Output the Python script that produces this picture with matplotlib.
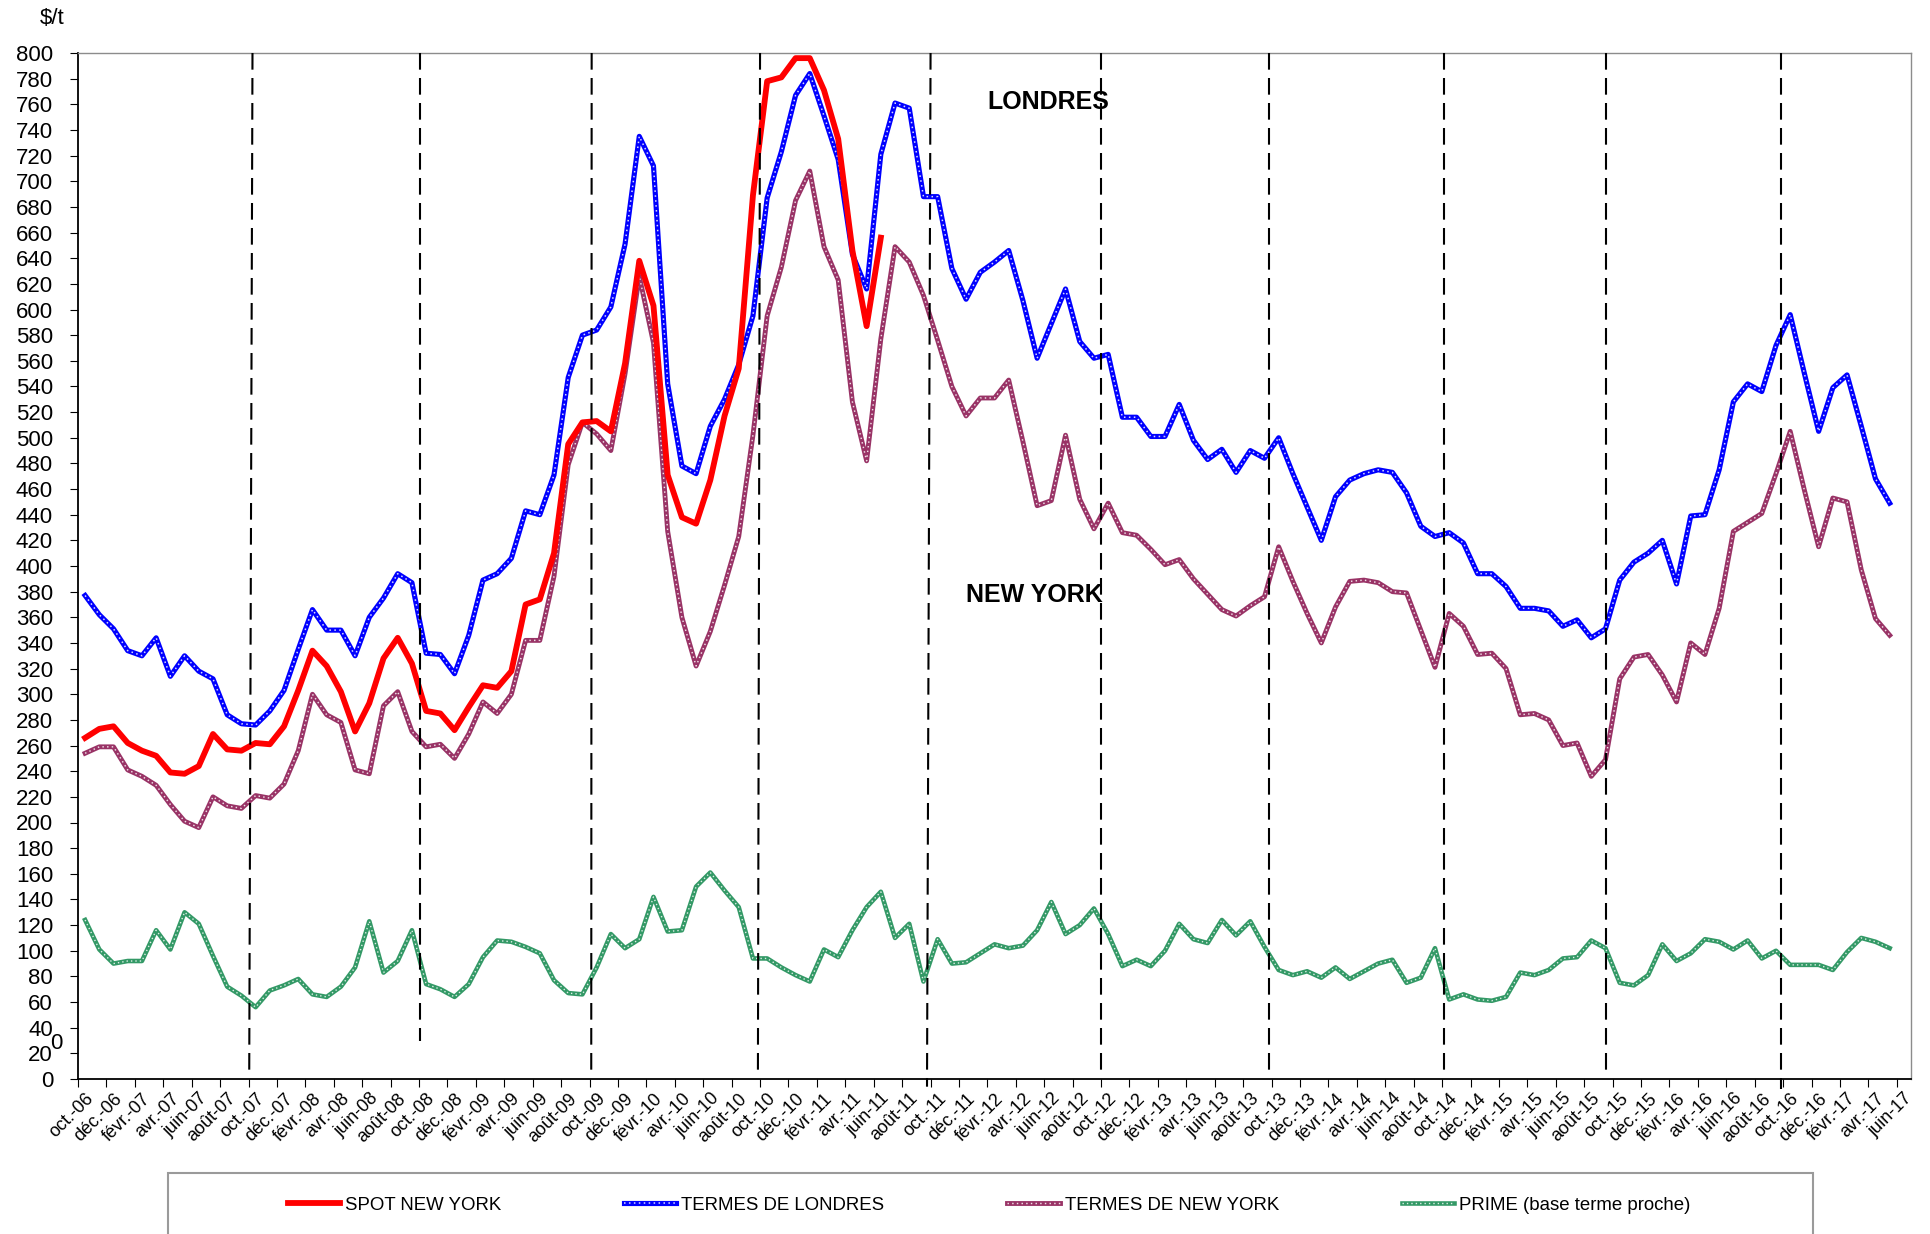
import matplotlib
matplotlib.use('Agg')
import matplotlib.pyplot as plt
from matplotlib.patches import Rectangle
import numpy as np

plt.rcParams['font.family'] = ['Liberation Sans', 'DejaVu Sans']

# categories: monthly, oct-06 .. juin-17
mois = ['janv.', 'févr.', 'mars', 'avr.', 'mai', 'juin',
        'juil.', 'août', 'sept.', 'oct.', 'nov.', 'déc.']
n_cat = 129
labels = [f"{mois[(9 + i) % 12]}-{6 + (9 + i) // 12:02d}" for i in range(n_cat)]

# $/t
spot_ny = [266, 273, 275, 262, 256, 252, 239, 238, 244, 269, 257, 256, 262, 261, 275, 303,
           334, 322, 302, 271, 293, 328, 344, 324, 287, 285, 272, 290, 307, 305, 318, 370,
           374, 410, 495, 512, 513, 505, 558, 638, 603, 471, 438, 433, 467, 517, 554, 689,
           778, 781, 796, 796, 771, 733, 646, 587, 656]

londres = [377, 362, 351, 334, 330, 344, 314, 330, 318, 312, 284, 277, 276, 287, 303, 335,
           366, 350, 350, 330, 360, 375, 394, 387, 332, 331, 316, 346, 389, 394, 406, 443,
           440, 471, 547, 580, 584, 602, 651, 735, 712, 542, 478, 472, 509, 530, 557, 595,
           687, 723, 767, 784, 751, 717, 643, 616, 721, 761, 757, 688, 688, 632, 608, 629,
           637, 646, 607, 562, 589, 616, 575, 562, 565, 516, 516, 501, 501, 526, 498, 483,
           491, 473, 490, 484, 500, 472, 446, 420, 454, 467, 472, 475, 473, 457, 431, 423,
           426, 418, 394, 394, 384, 367, 367, 365, 353, 358, 344, 351, 389, 403, 410, 420,
           386, 439, 440, 475, 528, 542, 536, 572, 596, 550, 505, 539, 549, 509, 468, 449]

termes_ny = [254, 259, 259, 241, 236, 229, 214, 201, 196, 220, 213, 211, 221, 219, 230, 256,
             300, 284, 278, 241, 238, 291, 302, 271, 259, 261, 250, 269, 294, 285, 300, 342,
             342, 392, 479, 512, 503, 490, 550, 626, 574, 427, 360, 322, 349, 385, 423, 502,
             595, 633, 685, 708, 649, 623, 528, 482, 577, 649, 637, 611, 576, 540, 517, 531,
             531, 545, 497, 447, 451, 502, 452, 429, 449, 426, 424, 413, 401, 405, 390, 378,
             366, 361, 369, 376, 415, 388, 363, 340, 368, 388, 389, 387, 380, 379, 350, 321,
             363, 353, 331, 332, 320, 284, 285, 280, 260, 262, 236, 249, 312, 329, 331, 315,
             294, 340, 331, 367, 427, 434, 441, 472, 505, 459, 415, 453, 450, 397, 359, 346]

prime = [124, 101, 90, 92, 92, 116, 101, 130, 121, 96, 72, 65, 56, 69, 73, 78,
         66, 64, 72, 87, 123, 83, 92, 116, 74, 70, 64, 74, 95, 108, 107, 103,
         98, 77, 67, 66, 87, 113, 102, 109, 142, 115, 116, 150, 161, 147, 134, 94,
         94, 87, 81, 76, 101, 95, 116, 134, 146, 110, 121, 76, 109, 90, 91, 98,
         105, 102, 104, 116, 138, 113, 120, 133, 113, 88, 93, 88, 100, 121, 109, 106,
         124, 112, 123, 103, 85, 81, 84, 79, 87, 78, 84, 90, 93, 75, 79, 102,
         62, 66, 62, 61, 64, 83, 81, 85, 94, 95, 108, 102, 75, 73, 81, 105,
         92, 98, 109, 107, 101, 108, 94, 100, 89, 89, 89, 85, 99, 110, 107, 102]

# hand-drawn October separators (month index at top / bottom, bottom value)
sep_top = [11.78, 23.58, 35.65, 47.5, 59.5, 71.5, 83.33, 95.6, 107.03, 119.33]
sep_bottom = [11.55, 23.58, 35.62, 47.35, 59.25, 71.5, 83.33, 95.6, 107.03, 119.33]
sep_end = [4, 30, 4, 4, -6, 4, 4, 4, 4, -8]

fig = plt.figure(figsize=(19.3, 12.34), dpi=100)
ax = fig.add_axes([78 / 1930, 1 - 1079 / 1234, 1833 / 1930, 1026 / 1234])


def dotted_line(y, color, lw, z):
    x = np.arange(len(y))
    base, = ax.plot(x, y, color=color, lw=lw, zorder=z)
    dots, = ax.plot(x, y, color='white', lw=lw * 0.3, ls=(0, (1, 2.2)),
                    alpha=0.85, zorder=z + 0.1)
    return (base, dots)


h_lon = dotted_line(londres, '#0000ff', 3.7, 2)
h_ny = dotted_line(termes_ny, '#993366', 3.5, 2.2)
h_pr = dotted_line(prime, '#339966', 3.3, 2.4)
h_spot, = ax.plot(np.arange(len(spot_ny)), spot_ny, color='#ff0000', lw=4.2, zorder=3)

for xt, xb, yb in zip(sep_top, sep_bottom, sep_end):
    ax.plot([xt, xb], [800, yb], color='black', lw=1.5, ls=(0, (8, 4)),
            zorder=5, clip_on=False)

ax.set_xlim(-0.5, n_cat - 0.5)
ax.set_ylim(0, 800)
ax.set_yticks(np.arange(0, 801, 20))
ax.tick_params(axis='y', labelsize=16, length=6, pad=12, direction='out')

ax.set_xticks(np.arange(-0.5, n_cat, 2))
ax.set_xticklabels([])
ax.tick_params(axis='x', which='major', length=6, direction='out')
ax.set_xticks(np.arange(0, n_cat, 2), minor=True)
ax.set_xticklabels(labels[::2], minor=True, rotation=45, ha='right',
                   rotation_mode='anchor', fontsize=13)
ax.tick_params(axis='x', which='minor', length=0, pad=8)

for s in ['left', 'bottom']:
    ax.spines[s].set_color('black')
    ax.spines[s].set_linewidth(1.3)
for s in ['top', 'right']:
    ax.spines[s].set_color('#8c8c8c')
    ax.spines[s].set_linewidth(1.0)

ax.text(67.8, 762, 'LONDRES', fontsize=18, fontweight='bold', ha='center', va='center')
ax.text(66.8, 377, 'NEW YORK', fontsize=18, fontweight='bold', ha='center', va='center')
ax.text(-0.012, 27.7, '0', transform=ax.get_yaxis_transform(), fontsize=16,
        ha='center', va='center')
fig.text(52 / 1930, 1 - 18 / 1234, '$/t', fontsize=16, ha='center', va='center')

fig.add_artist(Rectangle((168 / 1930, -0.05), (1813 - 168) / 1930, 0.05 + 1 - 1173 / 1234,
                         transform=fig.transFigure, fill=False,
                         edgecolor='#9a9a9a', lw=1.5))
fig.legend([h_spot, h_lon, h_ny, h_pr],
           ['SPOT NEW YORK', 'TERMES DE LONDRES', 'TERMES DE NEW YORK',
            'PRIME (base terme proche)'],
           loc='center', bbox_to_anchor=(0.5125, 1 - 1205 / 1234), ncol=4,
           frameon=False, fontsize=13.4, handlelength=2.8, handletextpad=0.27,
           columnspacing=6.6)

fig.savefig('out.png', dpi=100)
